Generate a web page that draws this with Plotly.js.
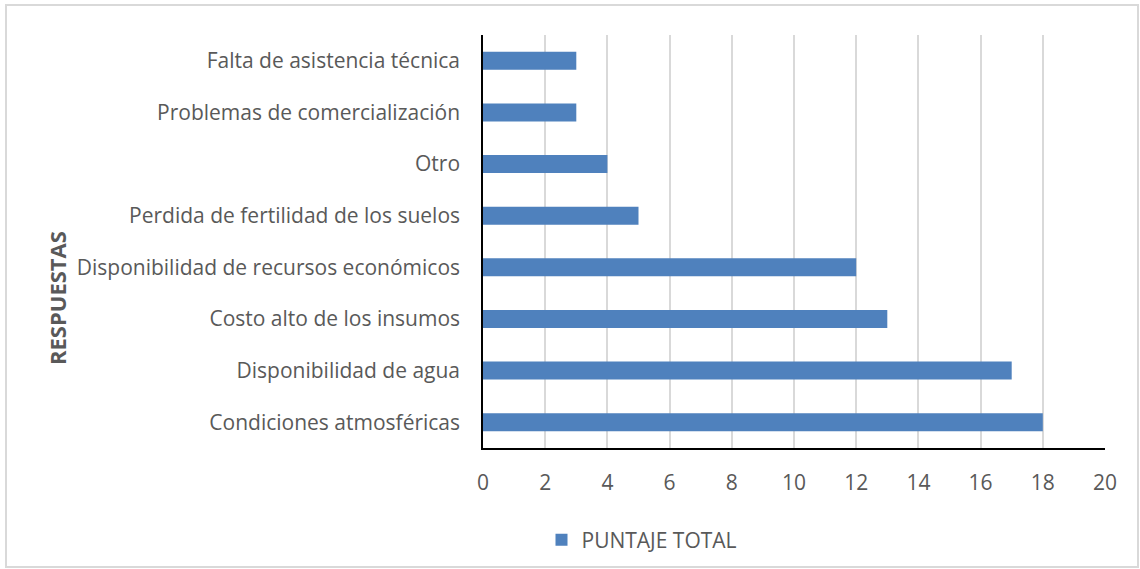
<!DOCTYPE html>
<html><head><meta charset="utf-8">
<script src="https://cdn.plot.ly/plotly-3.0.1.min.js"></script>
<style>body{margin:0;background:#fff}#c{width:1140px;height:569px}</style>
</head><body><div id="c"></div>
<script>
const categories = ["Condiciones atmosféricas","Disponibilidad de agua","Costo alto de los insumos","Disponibilidad de recursos económicos","Perdida de fertilidad de los suelos","Otro","Problemas de comercialización","Falta de asistencia técnica"];
const values = [18,17,13,12,5,4,3,3];
const seriesName = "PUNTAJE TOTAL";
const xTicks = [0,2,4,6,8,10,12,14,16,18,20];
const yTitle = "RESPUESTAS";

const L=483,R=1105,T=35,B=448,W=1140,H=569;
const pw=R-L, ph=B-T;
const px=v=>(v-L)/pw, py=v=>(B-v)/ph;
const txt='#595959';
Plotly.newPlot('c',[{
  type:'bar',orientation:'h',y:categories,x:values,name:seriesName,
  marker:{color:'#4f81bd'},width:0.35
}],{
  width:W,height:H,margin:{l:L,r:W-R,t:T,b:H-B,pad:0,autoexpand:false},
  paper_bgcolor:'#fff',plot_bgcolor:'#fff',
  font:{family:'"Open Sans", sans-serif',size:21,color:txt},
  showlegend:true,
  legend:{orientation:'h',x:px(642),xanchor:'center',y:py(540),yanchor:'middle',font:{size:21,color:txt}},
  xaxis:{range:[0,20],tickvals:xTicks,gridcolor:'#d9d9d9',gridwidth:2,zeroline:false,showline:true,linecolor:'#000',linewidth:1.5,ticks:'',ticklabelstandoff:15,tickfont:{size:21},fixedrange:true},
  yaxis:{type:'category',showline:true,linecolor:'#000',linewidth:1.5,ticks:'',ticklabelstandoff:17,showgrid:false,automargin:false,tickfont:{size:21}},
  annotations:[{text:'<b>'+yTitle+'</b>',textangle:-90,xref:'paper',yref:'paper',x:px(57),xanchor:'center',y:py(298),yanchor:'middle',showarrow:false,font:{size:22,color:txt}}],
  shapes:[{type:'rect',xref:'paper',yref:'paper',x0:px(6),x1:px(1138),y0:py(567),y1:py(5),line:{color:'#d9d9d9',width:2},layer:'below'}]
},{displayModeBar:false});
</script></body></html>
